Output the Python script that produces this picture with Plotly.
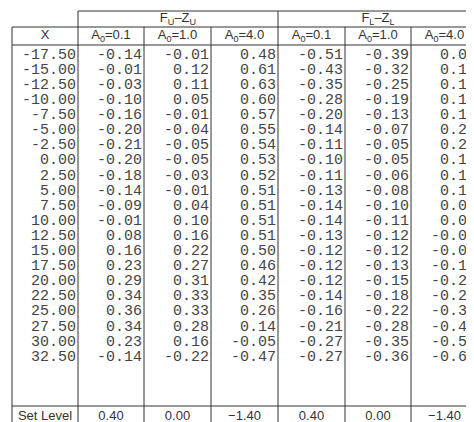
import plotly.graph_objects as go

x_vals = ["-17.50", "-15.00", "-12.50", "-10.00", "-7.50", "-5.00", "-2.50", "0.00",
          "2.50", "5.00", "7.50", "10.00", "12.50", "15.00", "17.50", "20.00",
          "22.50", "25.00", "27.50", "30.00", "32.50"]
fu_01 = [-0.14, -0.01, -0.03, -0.10, -0.16, -0.20, -0.21, -0.20, -0.18, -0.14, -0.09, -0.01,
         0.08, 0.16, 0.23, 0.29, 0.34, 0.36, 0.34, 0.23, -0.14]
fu_10 = [-0.01, 0.12, 0.11, 0.05, -0.01, -0.04, -0.05, -0.05, -0.03, -0.01, 0.04, 0.10,
         0.16, 0.22, 0.27, 0.31, 0.33, 0.33, 0.28, 0.16, -0.22]
fu_40 = [0.48, 0.61, 0.63, 0.60, 0.57, 0.55, 0.54, 0.53, 0.52, 0.51, 0.51, 0.51,
         0.51, 0.50, 0.46, 0.42, 0.35, 0.26, 0.14, -0.05, -0.47]
fl_01 = [-0.51, -0.43, -0.35, -0.28, -0.20, -0.14, -0.11, -0.10, -0.11, -0.13, -0.14, -0.14,
         -0.13, -0.12, -0.12, -0.12, -0.14, -0.16, -0.21, -0.27, -0.27]
fl_10 = [-0.39, -0.32, -0.25, -0.19, -0.13, -0.07, -0.05, -0.05, -0.06, -0.08, -0.10, -0.11,
         -0.12, -0.12, -0.13, -0.15, -0.18, -0.22, -0.28, -0.35, -0.36]
fl_40 = [0.09, 0.11, 0.14, 0.16, 0.19, 0.21, 0.21, 0.19, 0.15, 0.11, 0.06, 0.02,
         -0.03, -0.08, -0.14, -0.21, -0.29, -0.38, -0.48, -0.59, -0.61]
set_levels = ["0.40", "0.00", "\u22121.40", "0.40", "0.00", "\u22121.40"]
sub_headers = ["X", "A<sub>0</sub>=0.1", "A<sub>0</sub>=1.0", "A<sub>0</sub>=4.0",
               "A<sub>0</sub>=0.1", "A<sub>0</sub>=1.0", "A<sub>0</sub>=4.0"]
group_headers = ["F<sub>U</sub>\u2013Z<sub>U</sub>", "F<sub>L</sub>\u2013Z<sub>L</sub>"]

W, H = 474, 422
col_edges = [4, 70, 136, 203, 270, 337, 403, 470]
row0, row_step = 47, 15.1
row_y = [row0 + row_step * i for i in range(len(x_vals))]
ink = "#333"
mono = dict(family="Liberation Mono, Courier New, monospace", size=15, color="#444")
sans = dict(family="Liberation Sans, Arial, sans-serif", size=13, color=ink)

fig = go.Figure()

# body columns, right aligned
columns = [x_vals] + [[f"{v:.2f}" for v in s] for s in (fu_01, fu_10, fu_40, fl_01, fl_10, fl_40)]
for c, col in enumerate(columns):
    fig.add_trace(go.Scatter(
        x=[col_edges[c + 1] - 2] * len(col), y=row_y, text=col, cliponaxis=False,
        mode="text", textposition="middle left", textfont=mono, hoverinfo="skip"))

# header rows
mids = [(col_edges[i] + col_edges[i + 1]) / 2 for i in range(7)]
fig.add_trace(go.Scatter(x=mids, y=[28] * 7, text=sub_headers, mode="text", cliponaxis=False,
                         textfont=sans, hoverinfo="skip"))
fig.add_trace(go.Scatter(x=[(col_edges[1] + col_edges[4]) / 2, (col_edges[4] + col_edges[7]) / 2],
                         y=[11, 11], text=group_headers, mode="text", cliponaxis=False,
                         textfont=sans, hoverinfo="skip"))
fig.add_trace(go.Scatter(x=mids, y=[409] * 7, text=["Set Level"] + set_levels, cliponaxis=False,
                         mode="text", textfont=sans, hoverinfo="skip"))

# grid lines
line = dict(color=ink, width=1)
shapes = [
    dict(type="line", x0=70, x1=470, y0=3, y1=3, line=line),
    dict(type="line", x0=4, x1=470, y0=19, y1=19, line=line),
    dict(type="line", x0=4, x1=470, y0=37, y1=37, line=line),
    dict(type="line", x0=4, x1=470, y0=398, y1=398, line=line),
    dict(type="line", x0=4, x1=470, y0=419, y1=419, line=line),
    dict(type="line", x0=4, x1=4, y0=19, y1=419, line=line),
]
for xe in col_edges[1:]:
    top = 3 if xe in (70, 270, 470) else 19
    shapes.append(dict(type="line", x0=xe, x1=xe, y0=top, y1=419, line=line))
for s in shapes:
    s.update(xref="x", yref="y")

fig.update_layout(
    width=W, height=H, margin=dict(l=0, r=0, t=0, b=0),
    paper_bgcolor="white", plot_bgcolor="white", showlegend=False,
    shapes=shapes,
    xaxis=dict(range=[0, W], visible=False, fixedrange=True),
    yaxis=dict(range=[H, 0], visible=False, fixedrange=True),
)

fig.write_html("out.html", config={"displayModeBar": False})
